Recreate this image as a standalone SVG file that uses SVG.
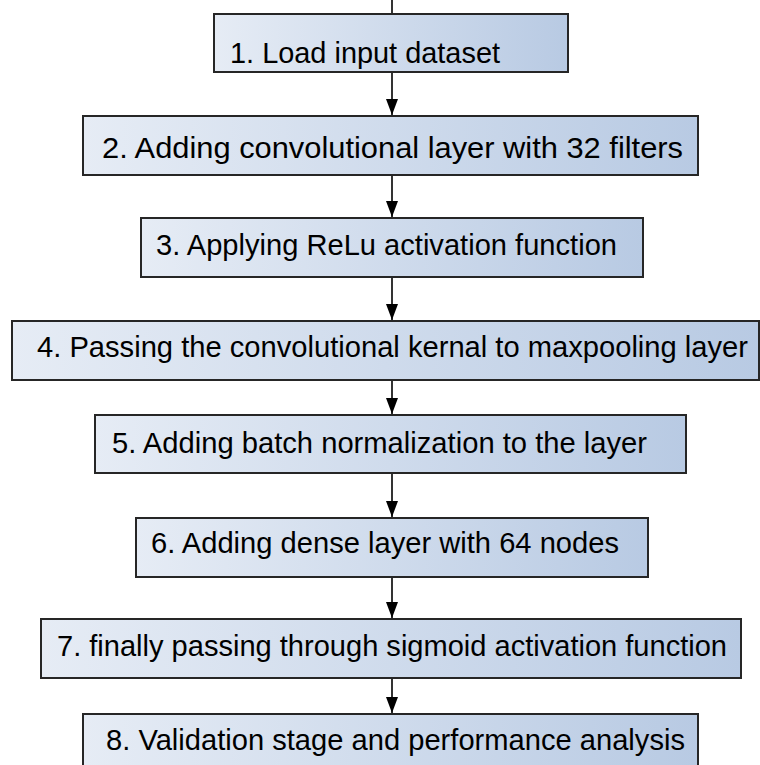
<svg xmlns="http://www.w3.org/2000/svg" width="760" height="765" viewBox="0 0 760 765">
<defs>
<linearGradient id="g" x1="0" y1="0" x2="1" y2="0">
<stop offset="0" stop-color="#e6ecf5"/>
<stop offset="1" stop-color="#b8cae3"/>
</linearGradient>
<marker id="ah" viewBox="0 0 16 12" refX="16" refY="6" markerWidth="16" markerHeight="12" markerUnits="userSpaceOnUse" orient="auto">
<path d="M0,0 L16,6 L0,12 Z" fill="#000"/>
</marker>
</defs>
<style>
.box{fill:url(#g);stroke:#262626;stroke-width:2}
.t{font-family:"Liberation Sans",Arial,sans-serif;font-size:29px;fill:#000}
.c{stroke:#000;stroke-width:1.6;fill:none}
</style>
<rect width="760" height="765" fill="#fff"/>
<g id="connectors">
<line class="c" x1="392" y1="0" x2="392" y2="14"/>
<line class="c" x1="392" y1="72" x2="392" y2="115" marker-end="url(#ah)"/>
<line class="c" x1="392" y1="175" x2="392" y2="217" marker-end="url(#ah)"/>
<line class="c" x1="392" y1="277" x2="392" y2="320" marker-end="url(#ah)"/>
<line class="c" x1="392" y1="380" x2="392" y2="414" marker-end="url(#ah)"/>
<line class="c" x1="392" y1="473" x2="392" y2="517" marker-end="url(#ah)"/>
<line class="c" x1="392" y1="577" x2="392" y2="618" marker-end="url(#ah)"/>
<line class="c" x1="392" y1="678" x2="392" y2="713" marker-end="url(#ah)"/>
</g>
<g id="n1"><rect class="box" x="214" y="14" width="354" height="58"/><text class="t" x="230" y="63" textLength="270" lengthAdjust="spacingAndGlyphs">1. Load input dataset</text></g>
<g id="n2"><rect class="box" x="83" y="116" width="615" height="59"/><text class="t" x="102" y="158" textLength="581" lengthAdjust="spacingAndGlyphs">2. Adding convolutional layer with 32 filters</text></g>
<g id="n3"><rect class="box" x="141" y="218" width="502" height="59"/><text class="t" x="156" y="255" textLength="461" lengthAdjust="spacingAndGlyphs">3. Applying ReLu activation function</text></g>
<g id="n4"><rect class="box" x="12" y="321" width="747" height="59"/><text class="t" x="37" y="357" textLength="711" lengthAdjust="spacingAndGlyphs">4. Passing the convolutional kernal to maxpooling layer</text></g>
<g id="n5"><rect class="box" x="95" y="415" width="591" height="58"/><text class="t" x="112" y="453" textLength="535" lengthAdjust="spacingAndGlyphs">5. Adding batch normalization to the layer</text></g>
<g id="n6"><rect class="box" x="136" y="518" width="512" height="59"/><text class="t" x="151" y="553" textLength="468" lengthAdjust="spacingAndGlyphs">6. Adding dense layer with 64 nodes</text></g>
<g id="n7"><rect class="box" x="41" y="619" width="700" height="59"/><text class="t" x="57" y="656" textLength="670" lengthAdjust="spacingAndGlyphs">7. finally passing through sigmoid activation function</text></g>
<g id="n8"><rect class="box" x="83" y="714" width="615" height="62"/><text class="t" x="106" y="750" textLength="579" lengthAdjust="spacingAndGlyphs">8. Validation stage and performance analysis</text></g>
</svg>
